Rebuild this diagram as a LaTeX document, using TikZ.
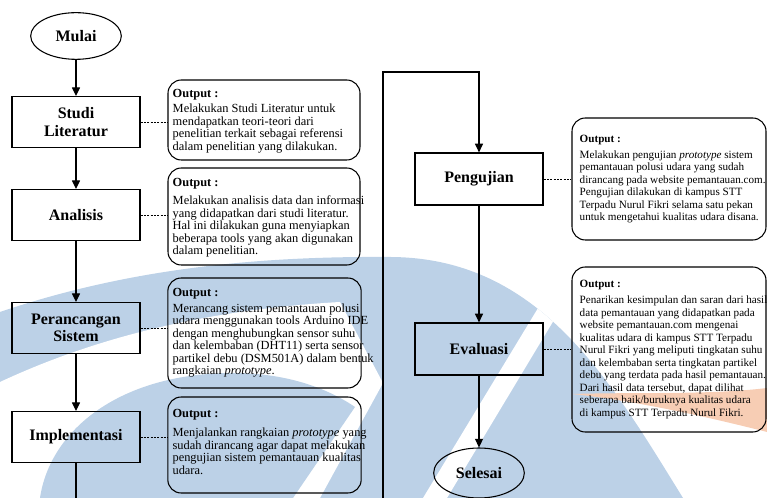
\documentclass[tikz,border=0pt]{standalone}
\usepackage{fontspec}
\setmainfont{Liberation Serif}
\usepackage{xcolor}
\usepackage{tikz}
\usetikzlibrary{shapes.geometric,arrows.meta}

\definecolor{logoblue}{RGB}{188,209,231}
\definecolor{logoorange}{RGB}{247,205,180}

\tikzset{
	stage/.style={draw,line width=0.9pt,minimum width=96pt,minimum height=38pt,align=center,font=\fontsize{12}{13}\selectfont\bfseries},
	terminal/.style={draw,ellipse,line width=0.8pt,minimum width=68pt,minimum height=35pt,inner sep=0pt,font=\fontsize{12}{13}\selectfont\bfseries},
	outbox/.style={draw,rounded corners=10pt,line width=0.8pt,inner sep=0pt},
	outtext/.style={align=left,inner sep=0pt,anchor=west,font=\fontsize{8.35}{9.4}\selectfont},
	outtextwide/.style={outtext,font=\fontsize{9.3}{9.4}\selectfont},
	flow/.style={line width=0.9pt,-{Triangle[width=6pt,length=6.5pt]}},
	link/.style={line width=0.6pt,dash pattern=on 1.5pt off 1pt}
}

\begin{document}
\begin{tikzpicture}[x=0.75pt,y=-0.75pt]
	\useasboundingbox (0,0) rectangle (767,498);
	\clip (0,0) rectangle (767,498);
	
	\begin{scope}
		\clip (0,312) .. controls (130,268) and (260,256) .. (391,257) .. controls (540,258) and (610,380) .. (683,498) -- (0,498) -- cycle;
		\fill[logoblue] (0,250) rectangle (767,498);
		\fill[white] (0,382) .. controls (90,340) and (200,310) .. (340,302) -- (383,383) -- (320,498) -- (0,498) -- cycle;
		\fill[logoblue] (40,498) .. controls (50,430) and (120,373) .. (233,373) .. controls (290,373) and (330,390) .. (355,407) -- (293,498) -- cycle;
		\fill[white] (423,498) -- (447,498) -- (575,285) -- (552,285) -- cycle;
	\end{scope}
	\fill[logoorange] (572,394) .. controls (640,392) and (710,395) .. (767,388) -- (767,432) .. controls (700,415) and (630,400) .. (572,394) -- cycle;
	
	\node[terminal] (mulai) at (76,36) {Mulai};
	\node[stage] (studi) at (76,122) {Studi\\Literatur};
	\node[stage] (analisis) at (76,215) {Analisis};
	\node[stage] (perancangan) at (76,328) {Perancangan\\Sistem};
	\node[stage] (implementasi) at (76,437) {Implementasi};
	\node[stage,minimum height=39pt] (pengujian) at (479,179) {Pengujian};
	\node[stage,minimum height=39pt] (evaluasi) at (479,349) {Evaluasi};
	\node[terminal,minimum height=37.5pt] (selesai) at (479,473) {Selesai};
	
	\node[outbox,minimum width=144pt,minimum height=60pt] (out1) at (264,120) {};
	\node[outbox,minimum width=144pt,minimum height=72.75pt] (out2) at (264,216.5) {};
	\node[outbox,minimum width=145pt,minimum height=82.5pt] (out3) at (264.5,333) {};
	\node[outbox,minimum width=145pt,minimum height=72pt] (out4) at (264.5,445) {};
	\node[outbox,minimum width=145.5pt,minimum height=91.5pt] (out5) at (669,179) {};
	\node[outbox,minimum width=145.5pt,minimum height=123.75pt] (out6) at (669,349.5) {};
	
	\node[outtextwide] (out1text) at ([xshift=3.75pt,yshift=-1pt]out1.west) {\textbf{Output :}\\[2pt]Melakukan Studi Literatur untuk\\mendapatkan teori-teori dari\\penelitian terkait sebagai referensi\\dalam penelitian yang dilakukan.};
	\node[outtextwide] (out2text) at ([xshift=3.75pt,yshift=-1pt]out2.west) {\textbf{Output :}\\[4pt]Melakukan analisis data dan informasi\\yang didapatkan dari studi literatur.\\Hal ini dilakukan guna menyiapkan\\beberapa tools yang akan digunakan\\dalam penelitian.};
	\node[outtextwide] (out3text) at ([xshift=3.75pt]out3.west) {\textbf{Output :}\\[2pt]Merancang sistem pemantauan polusi\\udara menggunakan tools Arduino IDE\\dengan menghubungkan sensor suhu\\dan kelembaban (DHT11) serta sensor\\partikel debu (DSM501A) dalam bentuk\\rangkaian \textit{prototype}.};
	\node[outtextwide] (out4text) at ([xshift=3.75pt,yshift=2.25pt]out4.west) {\textbf{Output :}\\[4.5pt]Menjalankan rangkaian \textit{prototype} yang\\sudah dirancang agar dapat melakukan\\pengujian sistem pemantauan kualitas\\udara.};
	\node[outtext] (out5text) at ([xshift=6pt]out5.west) {\textbf{Output :}\\[2.5pt]Melakukan pengujian \textit{prototype} sistem\\pemantauan polusi udara yang sudah\\dirancang pada website pemantauan.com.\\Pengujian dilakukan di kampus STT\\Terpadu Nurul Fikri selama satu pekan\\untuk mengetahui kualitas udara disana.};
	\node[outtext] (out6text) at ([xshift=6pt]out6.west) {\textbf{Output :}\\[2.5pt]Penarikan kesimpulan dan saran dari hasil\\data pemantauan yang didapatkan pada\\website pemantauan.com mengenai\\kualitas udara di kampus STT Terpadu\\Nurul Fikri yang meliputi tingkatan suhu\\dan kelembaban serta tingkatan partikel\\debu yang terdata pada hasil pemantauan.\\Dari hasil data tersebut, dapat dilihat\\seberapa baik/buruknya kualitas udara\\di kampus STT Terpadu Nurul Fikri.};
	
	\coordinate (turnA) at (76,530);
	\coordinate (turnB) at (383,530);
	\coordinate (turnC) at (383,72);
	
	\draw[flow] (mulai) -- (studi);
	\draw[flow] (studi) -- (analisis);
	\draw[flow] (analisis) -- (perancangan);
	\draw[flow] (perancangan) -- (implementasi);
	\draw[flow] (implementasi) -- (turnA) -- (turnB) -- (turnC) -| (pengujian);
	\draw[flow] (pengujian) -- (evaluasi);
	\draw[flow] (evaluasi) -- (selesai);
	
	\draw[link] (studi.east) -- (studi.east -| out1.west);
	\draw[link] (analisis.east) -- (analisis.east -| out2.west);
	\draw[link] (perancangan.east) -- (perancangan.east -| out3.west);
	\draw[link] (implementasi.east) -- (implementasi.east -| out4.west);
	\draw[link] (pengujian.east) -- (pengujian.east -| out5.west);
	\draw[link] (evaluasi.east) -- (evaluasi.east -| out6.west);
\end{tikzpicture}
\end{document}
